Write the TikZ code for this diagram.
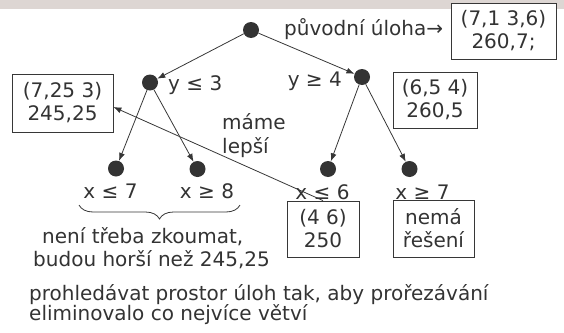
\documentclass[tikz,border=0pt]{standalone}
\usepackage{fontspec}
\setmainfont{DejaVu Sans}
\usetikzlibrary{arrows.meta,decorations.pathreplacing}
\definecolor{txt}{RGB}{51,51,51}
\definecolor{band}{RGB}{221,214,211}
\definecolor{ln}{RGB}{55,55,55}
\begin{document}
\begin{tikzpicture}[x=1pt,y=-1pt,
  font=\fontsize{20}{23}\selectfont, text=txt,
  dot/.style={circle,fill=txt,inner sep=0pt,minimum size=16pt},
  valbox/.style={draw=ln,fill=white,line width=0.8pt,align=center,inner sep=0pt},
  lbl/.style={inner sep=0pt},
  arr/.style={draw=ln,line width=0.8pt,-{Latex[length=8pt,width=6pt]}}]
\useasboundingbox (0,0) rectangle (564,332);
\fill[band] (0,0) rectangle (564,8.5);

% tree nodes
\node[dot] (root) at (251,30) {};
\node[dot] (L) at (150,82.5) {};
\node[dot] (R) at (362,77) {};
\node[dot] (LL) at (116,168.5) {};
\node[dot] (LR) at (197.5,169) {};
\node[dot] (RL) at (328,169) {};
\node[dot] (RR) at (409.5,169) {};

% value boxes
\node[valbox,minimum width=105pt,minimum height=56pt] (b0) at (503.5,31) {(7,1 3,6)\\260,7;};
\node[valbox,minimum width=101pt,minimum height=58pt] (bL) at (62.5,103) {(7,25 3)\\245,25};
\node[valbox,minimum width=84pt,minimum height=56pt] (bR) at (435,100) {(6,5 4)\\260,5};
\node[valbox,minimum width=72pt,minimum height=56pt] (b46) at (323,229) {(4 6)\\250};
\node[valbox,minimum width=81pt,minimum height=57pt] (bN) at (433.5,228.5) {nemá\\řešení};

% labels
\node[lbl,anchor=base west] (orig) at (284,35) {původní úloha→};
\node[lbl,anchor=base west] (ly3) at (168,90) {y ≤ 3};
\node[lbl,anchor=base east] (ly4) at (342,86) {y ≥ 4};
\node[lbl,anchor=base west,align=left] (lm) at (222,129) {máme};
\node[lbl,anchor=base west] (lm2) at (222,153) {lepší};
\node[lbl,anchor=base] (lx7) at (110.5,198) {x ≤ 7};
\node[lbl,anchor=base] (lx8) at (207,198) {x ≥ 8};
\node[lbl,anchor=base] (lx6) at (322.5,199) {x ≤ 6};
\node[lbl,anchor=base] (lx7b) at (422.5,199) {x ≥ 7};
\node[lbl,anchor=base west] (n1) at (42,243) {není třeba zkoumat,};
\node[lbl,anchor=base west] (n2) at (33,266) {budou horší než 245,25};
\node[lbl,anchor=base west] (p1) at (29,300) {prohledávat prostor úloh tak, aby prořezávání};
\node[lbl,anchor=base west] (p2) at (29,320) {eliminovalo co nejvíce větví};

% connectors
\draw[arr] (root) -- (L);
\draw[arr] (root) -- (R);
\draw[arr] (L) -- (LL);
\draw[arr] (L) -- (LR);
\draw[arr] (R) -- (RL);
\draw[arr] (R) -- (RR);
\draw[arr] (b46.north) -- ([yshift=-4pt]bL.east);

% brace
\coordinate (brL) at (79,205);
\coordinate (brR) at (240,205);
\draw[ln,line width=0.8pt,decorate,decoration={brace,mirror,amplitude=14pt}] (brL) -- (brR);
\end{tikzpicture}
\end{document}
